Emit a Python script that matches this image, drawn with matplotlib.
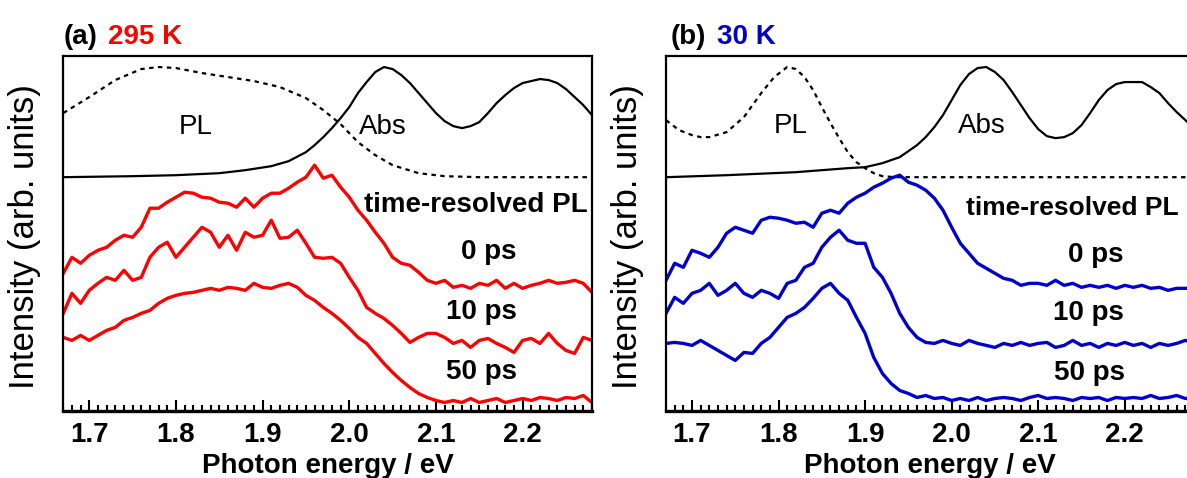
import matplotlib.pyplot as plt
from matplotlib.ticker import MultipleLocator

plt.rcParams['font.family'] = ['Liberation Sans', 'DejaVu Sans']

# photon energy grid of the time-resolved spectra (eV)
energy = [1.67, 1.68, 1.69, 1.70, 1.71, 1.72, 1.73, 1.74, 1.75, 1.76,
          1.77, 1.78, 1.79, 1.80, 1.81, 1.82, 1.83, 1.84, 1.85, 1.86,
          1.87, 1.88, 1.89, 1.90, 1.91, 1.92, 1.93, 1.94, 1.95, 1.96,
          1.97, 1.98, 1.99, 2.00, 2.01, 2.02, 2.03, 2.04, 2.05, 2.06,
          2.07, 2.08, 2.09, 2.10, 2.11, 2.12, 2.13, 2.14, 2.15, 2.16,
          2.17, 2.18, 2.19, 2.20, 2.21, 2.22, 2.23, 2.24, 2.25, 2.26,
          2.27, 2.28]

# (a) 295 K, time-resolved PL (offset, arb. units)
a_0ps = [137, 153, 147, 155, 160, 163, 170, 175, 173, 183,
         202, 202, 208, 213, 218, 217, 213, 212, 208, 207,
         203, 212, 203, 212, 217, 217, 222, 228, 233, 245,
         232, 235, 223, 213, 200, 190, 178, 167, 153, 147,
         145, 138, 130, 127, 130, 123, 125, 122, 127, 125,
         130, 122, 127, 122, 125, 127, 130, 127, 128, 130,
         127, 118]
a_10ps = [97, 117, 107, 120, 127, 133, 130, 140, 130, 133,
          153, 163, 168, 153, 163, 173, 183, 178, 163, 175,
          160, 178, 173, 175, 190, 172, 173, 180, 167, 153,
          152, 153, 147, 133, 120, 103, 97, 92, 85, 77,
          68, 73, 77, 77, 73, 67, 70, 63, 70, 72,
          67, 63, 58, 70, 72, 67, 77, 67, 60, 57,
          73, 70]
a_50ps = [73, 70, 75, 70, 75, 80, 83, 90, 93, 97,
          100, 107, 112, 115, 117, 118, 120, 122, 120, 123,
          122, 120, 127, 123, 122, 125, 127, 123, 115, 110,
          103, 97, 90, 82, 73, 67, 57, 47, 38, 30,
          23, 17, 13, 10, 8, 10, 8, 12, 8, 10,
          12, 8, 10, 12, 10, 13, 12, 10, 13, 12,
          15, 8]

# (b) 30 K, time-resolved PL
b_0ps = [130, 147, 143, 160, 157, 153, 163, 177, 183, 180,
         177, 190, 193, 192, 190, 187, 188, 183, 197, 200,
         197, 207, 213, 217, 223, 227, 232, 235, 228, 225,
         220, 212, 200, 183, 167, 157, 147, 142, 137, 132,
         130, 125, 127, 127, 125, 130, 125, 127, 123, 125,
         123, 125, 122, 125, 123, 125, 122, 123, 120, 122,
         122, 122]
b_10ps = [97, 113, 107, 117, 120, 127, 115, 120, 127, 117,
          113, 120, 117, 112, 127, 130, 143, 147, 163, 173,
          180, 170, 167, 167, 143, 133, 117, 97, 83, 73,
          68, 67, 70, 67, 65, 70, 67, 65, 63, 67,
          65, 68, 65, 67, 68, 63, 65, 70, 65, 67,
          63, 67, 65, 68, 65, 67, 63, 67, 65, 67,
          70, 68]
b_50ps = [67, 68, 67, 65, 70, 65, 60, 55, 50, 58,
          57, 67, 73, 83, 93, 97, 103, 112, 122, 127,
          117, 110, 93, 77, 53, 37, 27, 20, 17, 13,
          15, 12, 13, 10, 12, 10, 13, 10, 12, 13,
          12, 10, 13, 15, 12, 13, 12, 10, 13, 12,
          13, 10, 13, 12, 13, 12, 15, 12, 13, 15,
          12, 13]

# steady-state PL (dotted) and absorption (solid)
a_pl_e = [1.67, 1.70, 1.73, 1.76, 1.78, 1.80, 1.83, 1.86, 1.89, 1.92,
          1.95, 1.97, 1.99, 2.01, 2.03, 2.05, 2.08, 2.11, 2.15, 2.28]
a_pl = [297, 313, 330, 341, 343, 342, 337, 333, 329, 323,
        312, 300, 286, 268, 255, 245, 237, 234, 233, 233]
a_abs_e = [1.67, 1.75, 1.80, 1.85, 1.88, 1.91, 1.93, 1.95, 1.96, 1.97,
           1.98, 1.99, 2.00, 2.01, 2.02, 2.03, 2.04, 2.05, 2.06, 2.07,
           2.08, 2.09, 2.10, 2.11, 2.12, 2.13, 2.14, 2.15, 2.16, 2.17,
           2.18, 2.19, 2.20, 2.21, 2.22, 2.23, 2.24, 2.25, 2.26, 2.27, 2.28]
a_abs = [233, 234, 235, 237, 240, 244, 249, 258, 265, 273,
         282, 292, 303, 317, 328, 338, 343, 341, 335, 327,
         317, 307, 297, 289, 284, 282, 284, 288, 297, 307,
         315, 322, 327, 329, 331, 330, 327, 321, 313, 305, 295]

b_pl_e = [1.67, 1.685, 1.70, 1.71, 1.72, 1.74, 1.76, 1.78, 1.795, 1.81,
          1.82, 1.83, 1.84, 1.85, 1.86, 1.87, 1.88, 1.89, 1.90, 1.91,
          1.92, 1.935, 1.96, 2.28]
b_pl = [290, 280, 275, 273, 273, 278, 293, 317, 333, 343,
        341, 333, 320, 303, 287, 272, 258, 248, 242, 237,
        234, 233, 233, 233]
b_abs_e = [1.67, 1.74, 1.82, 1.88, 1.90, 1.92, 1.94, 1.96, 1.97, 1.98,
           1.99, 2.00, 2.01, 2.02, 2.03, 2.04, 2.05, 2.06, 2.07, 2.08,
           2.09, 2.10, 2.11, 2.12, 2.13, 2.14, 2.15, 2.16, 2.17, 2.18,
           2.19, 2.20, 2.21, 2.22, 2.23, 2.24, 2.25, 2.26, 2.27, 2.28]
b_abs = [233, 235, 238, 242, 243, 247, 253, 265, 273, 283,
         295, 310, 325, 336, 342, 343, 338, 330, 318, 305,
         292, 281, 274, 272, 273, 277, 285, 297, 310, 320,
         326, 328, 328, 328, 323, 317, 307, 298, 290, 282]

tick_vals = [1.7, 1.8, 1.9, 2.0, 2.1, 2.2]
tick_labels = ['1.7', '1.8', '1.9', '2.0', '2.1', '2.2']
delays = ['0 ps', '10 ps', '50 ps']

fig = plt.figure(figsize=(11.87, 4.78), dpi=100)
ax_a = fig.add_axes([0.0533, 0.1412, 0.4454, 0.7416])
ax_b = fig.add_axes([0.5611, 0.1412, 0.4448, 0.7416])


def setup(ax):
    ax.set_xlim(1.67, 2.28)
    ax.set_ylim(0, 354)
    ax.set_yticks([])
    ax.set_xticks(tick_vals)
    ax.set_xticklabels(tick_labels, fontsize=20, fontweight='bold')
    ax.xaxis.set_minor_locator(MultipleLocator(0.01))
    ax.tick_params(axis='x', which='major', direction='in', length=8,
                   width=1.5, pad=8)
    ax.tick_params(axis='x', which='minor', direction='in', length=4,
                   width=1.5)
    for s in ax.spines.values():
        s.set_linewidth(1.6)
    ax.spines['bottom'].set_linewidth(2.4)
    ax.set_xlabel('Photon energy / eV', fontsize=20, fontweight='bold',
                  labelpad=4)
    ax.set_ylabel('Intensity (arb. units)', fontsize=25)
    ax.yaxis.set_label_coords(-0.042, 0.49)


red = '#ff0000'
blue = '#0000cc'

# panel (a)
setup(ax_a)
ax_a.plot(a_pl_e, a_pl, color='black', lw=1.6, ls=(0, (2, 2)))
ax_a.plot(a_abs_e, a_abs, color='black', lw=1.6)
for ys in [a_0ps, a_10ps, a_50ps]:
    ax_a.plot(energy, ys, color=red, lw=2.4)
ax_a.text(1.823, 283, 'PL', ha='center', va='center', fontsize=20)
ax_a.text(2.039, 283, 'Abs', ha='center', va='center', fontsize=20)
ax_a.text(2.275, 205, 'time-resolved PL', ha='right', va='center',
          fontsize=20, fontweight='bold')
for lab, xx, yy in zip(delays, [2.161, 2.153, 2.153], [158, 98, 38]):
    ax_a.text(xx, yy, lab, ha='center', va='center', fontsize=20,
              fontweight='bold')
ax_a.text(0.0, 1.055, '(a)', transform=ax_a.transAxes, va='center',
          fontsize=20, fontweight='bold')
ax_a.text(0.0845, 1.055, '295 K', transform=ax_a.transAxes, va='center',
          fontsize=20, fontweight='bold', color=red)

# panel (b)
setup(ax_b)
ax_b.plot(b_pl_e, b_pl, color='black', lw=1.6, ls=(0, (2, 2)))
ax_b.plot(b_abs_e, b_abs, color='black', lw=1.6)
for ys in [b_0ps, b_10ps, b_50ps]:
    ax_b.plot(energy, ys, color=blue, lw=2.4)
ax_b.text(1.814, 284, 'PL', ha='center', va='center', fontsize=20)
ax_b.text(2.035, 284, 'Abs', ha='center', va='center', fontsize=20)
ax_b.text(2.017, 202, 'time-resolved PL', ha='left', va='center',
          fontsize=19, fontweight='bold')
for lab, xx, yy in zip(delays, [2.166, 2.158, 2.159], [155, 97, 37]):
    ax_b.text(xx, yy, lab, ha='center', va='center', fontsize=20,
              fontweight='bold')
ax_b.text(0.0095, 1.055, '(b)', transform=ax_b.transAxes, va='center',
          fontsize=20, fontweight='bold')
ax_b.text(0.0966, 1.055, '30 K', transform=ax_b.transAxes, va='center',
          fontsize=20, fontweight='bold', color=blue)

fig.savefig('out.png', dpi=100)
